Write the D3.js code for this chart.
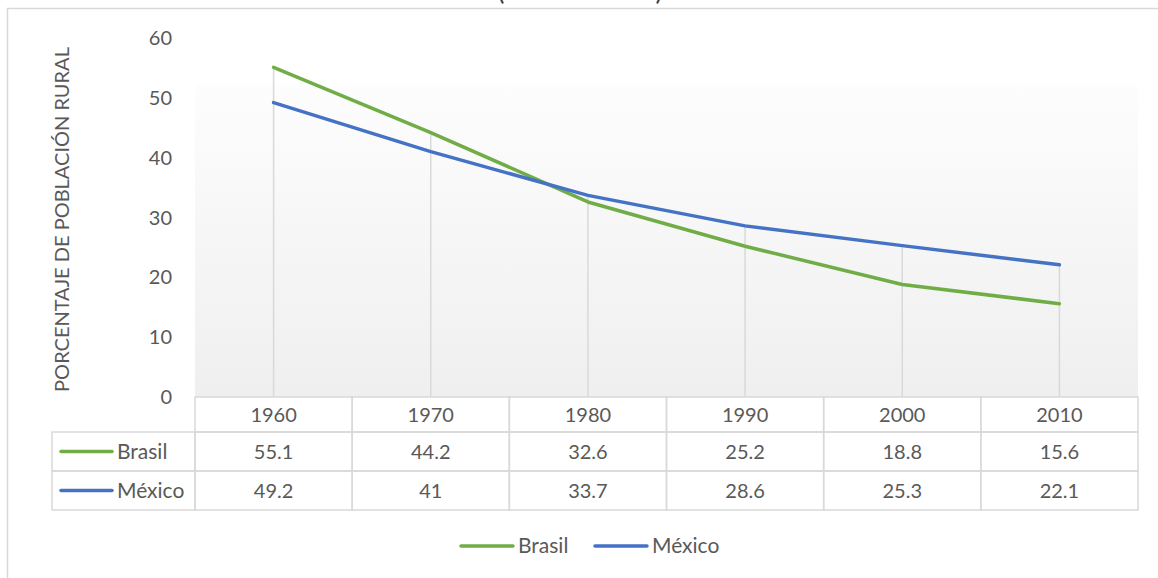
<!DOCTYPE html>
<html><head><meta charset="utf-8">
<script src="https://cdn.jsdelivr.net/npm/d3@7"></script>
<style>body{margin:0;background:#fff;} svg{display:block;font-family:Lato,"Open Sans",sans-serif;}</style>
</head><body>
<svg id="c" width="1158" height="578"></svg>
<script>
const categories = ["1960","1970","1980","1990","2000","2010"];
const brasil = [55.1,44.2,32.6,25.2,18.8,15.6];
const mexico = [49.2,41,33.7,28.6,25.3,22.1];
const seriesNames = ["Brasil","México"];
const seriesColors = ["#70ad47","#4472c4"];
const yTicks = [0,10,20,30,40,50,60];
const yTitle = "PORCENTAJE DE POBLACIÓN RURAL";
const titleText = "(1960-2010)";

const series = [brasil, mexico];
const svg = d3.select("#c");
const L = 195, R = 1138, T = 38, B = 397;
const x = d3.scaleBand().domain(categories).range([L, R]);
const y = d3.scaleLinear().domain([0,60]).range([B, T]);
const grid = "#d9d9d9", txt = "#595959";
const fs = 20;

// chart border
svg.append("rect").attr("x",7.5).attr("y",8.5).attr("width",1200).attr("height",600)
  .attr("fill","none").attr("stroke",grid).attr("stroke-width",1.5);

// title (mostly out of view, as in the reference)
svg.append("text").attr("x",580).attr("y",0).attr("text-anchor","middle")
  .attr("font-size",26).attr("textLength",165).attr("fill","#404040").text(titleText);

// plot area gradient
const defs = svg.append("defs");
const g = defs.append("linearGradient").attr("id","pg").attr("x1",0).attr("y1",0).attr("x2",0).attr("y2",1);
g.append("stop").attr("offset","0%").attr("stop-color","#fdfdfd");
g.append("stop").attr("offset","100%").attr("stop-color","#efefef");
svg.append("rect").attr("x",L).attr("y",85).attr("width",R-L).attr("height",B-85).attr("fill","url(#pg)");

// y axis labels
svg.append("g").selectAll("text").data(yTicks).join("text")
  .attr("x",172).attr("y",d=>y(d)).attr("dy","0.35em").attr("text-anchor","end")
  .attr("font-size",fs).attr("fill",txt).text(d=>d);

// y title
svg.append("text").attr("transform",`translate(69,${(T+B)/2+2}) rotate(-90)`)
  .attr("text-anchor","middle").attr("font-size",20).attr("fill",txt).text(yTitle);

// drop lines
svg.append("g").selectAll("line").data(categories).join("line")
  .attr("x1",d=>x(d)+x.bandwidth()/2).attr("x2",d=>x(d)+x.bandwidth()/2)
  .attr("y1",(d,i)=>y(Math.max(brasil[i],mexico[i]))).attr("y2",B)
  .attr("stroke",grid).attr("stroke-width",1.5);

// lines
const line = d3.line().x((d,i)=>x(categories[i])+x.bandwidth()/2).y(d=>y(d));
series.forEach((s,k)=>{
  svg.append("path").datum(s).attr("d",line).attr("fill","none")
    .attr("stroke",seriesColors[k]).attr("stroke-width",3.5).attr("stroke-linejoin","round").attr("stroke-linecap","round");
});

// data table
const rowH = [B, 432, 471, 510];
const tL = 52;
const tb = svg.append("g");
categories.forEach((c,i)=>{
  tb.append("rect").attr("x",x(c)).attr("y",rowH[0]).attr("width",x.bandwidth()).attr("height",rowH[1]-rowH[0])
    .attr("fill","none").attr("stroke",grid).attr("stroke-width",1.5);
  tb.append("text").attr("x",x(c)+x.bandwidth()/2).attr("y",(rowH[0]+rowH[1])/2).attr("dy","0.35em")
    .attr("text-anchor","middle").attr("font-size",fs).attr("fill",txt).text(c);
});
series.forEach((s,k)=>{
  const y0 = rowH[k+1], y1 = rowH[k+2], ym = (y0+y1)/2;
  tb.append("rect").attr("x",tL).attr("y",y0).attr("width",L-tL).attr("height",y1-y0)
    .attr("fill","none").attr("stroke",grid).attr("stroke-width",1.5);
  tb.append("line").attr("x1",61).attr("x2",112).attr("y1",ym).attr("y2",ym)
    .attr("stroke",seriesColors[k]).attr("stroke-width",3.5).attr("stroke-linecap","round");
  tb.append("text").attr("x",117).attr("y",ym).attr("dy","0.35em").attr("font-size",21).attr("fill",txt).text(seriesNames[k]);
  s.forEach((v,i)=>{
    const c = categories[i];
    tb.append("rect").attr("x",x(c)).attr("y",y0).attr("width",x.bandwidth()).attr("height",y1-y0)
      .attr("fill","none").attr("stroke",grid).attr("stroke-width",1.5);
    tb.append("text").attr("x",x(c)+x.bandwidth()/2).attr("y",ym).attr("dy","0.35em")
      .attr("text-anchor","middle").attr("font-size",fs).attr("fill",txt).text(v);
  });
});

// legend
const legX = [461, 595];
seriesNames.forEach((n,k)=>{
  svg.append("line").attr("x1",legX[k]).attr("x2",legX[k]+52).attr("y1",546).attr("y2",546)
    .attr("stroke",seriesColors[k]).attr("stroke-width",3.5).attr("stroke-linecap","round");
  svg.append("text").attr("x",legX[k]+57).attr("y",546).attr("dy","0.35em").attr("font-size",21).attr("fill",txt).text(n);
});
</script>
</body></html>
